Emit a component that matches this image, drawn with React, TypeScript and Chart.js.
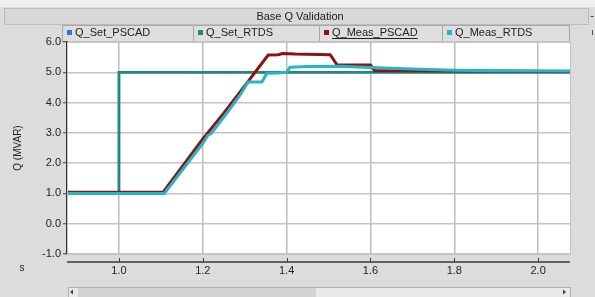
import React, { useEffect, useRef } from "react";
import { Chart, registerables } from "chart.js";
Chart.register(...registerables);

const chartTitle = "Base Q Validation";
const yTitle = "Q (MVAR)";
const xUnit = "s";
const xTicks = [1.0, 1.2, 1.4, 1.6, 1.8, 2.0];
const yTicks = [-1, 0, 1, 2, 3, 4, 5, 6];

const tSetPSCAD = [0.876, 1.0, 1.0, 2.076];
const qSetPSCAD = [1.0, 1.0, 5.0, 5.0];
const tSetRTDS = [0.876, 1.0, 1.0, 2.076];
const qSetRTDS = [1.0, 1.0, 5.0, 5.0];

const tMeasPSCAD = [0.876, 1.105, 1.2, 1.25, 1.3, 1.356, 1.38, 1.39, 1.42, 1.504, 1.52, 1.6, 1.61, 1.7, 1.85, 2.076];
const qMeasPSCAD = [1.035, 1.035, 2.8, 3.65, 4.55, 5.57, 5.58, 5.62, 5.6, 5.58, 5.25, 5.24, 5.05, 5.05, 5.04, 5.03];

const tMeasRTDS = [0.876, 1.108, 1.2, 1.212, 1.22, 1.26, 1.289, 1.308, 1.341, 1.353, 1.38, 1.4, 1.408, 1.45, 1.527, 1.6, 1.7, 1.8, 1.9, 2.076];
const qMeasRTDS = [1.0, 1.0, 2.65, 2.92, 2.98, 3.7, 4.25, 4.68, 4.68, 4.97, 4.98, 5.0, 5.17, 5.19, 5.2, 5.16, 5.11, 5.07, 5.05, 5.04];

const pts = (t: number[], q: number[]) => t.map((x, i) => ({ x, y: q[i] }));

const FONT = "'Liberation Sans', Arial, sans-serif";

function ds(chart: any) {
  return chart.data.datasets;
}

const deco = {
  id: "deco",
  beforeDraw(chart: any) {
    const { ctx, chartArea: ca, width, height } = chart;
    ctx.save();
    ctx.fillStyle = "#dcdcdc";
    ctx.fillRect(0, 0, width, height);
    ctx.fillStyle = "#efefef";
    ctx.fillRect(0, 0, width, 7);
    // title bar
    ctx.fillStyle = "#d8d8d8";
    ctx.fillRect(4, 8, 584, 16);
    ctx.strokeStyle = "#bcbcbc";
    ctx.lineWidth = 1;
    ctx.strokeRect(4.5, 8.5, 584, 16);
    ctx.fillStyle = "#222";
    ctx.font = `11px ${FONT}`;
    ctx.textAlign = "center";
    ctx.textBaseline = "middle";
    ctx.fillText(chartTitle, 300, 16.5);
    ctx.fillText("-", 592, 16);
    // legend
    const edges = [62, 193, 319, 442, 569];
    ds(chart).forEach((d: any, i: number) => {
      const l = edges[i], r = edges[i + 1];
      ctx.fillStyle = "#dedede";
      ctx.fillRect(l, 25, r - l, 16);
      ctx.strokeStyle = "#a8a8a8";
      ctx.strokeRect(l + 0.5, 25.5, r - l, 16);
      ctx.fillStyle = d.borderColor;
      ctx.fillRect(l + 5, 30, 5, 5);
      ctx.fillStyle = "#222";
      ctx.textAlign = "left";
      ctx.font = `11px ${FONT}`;
      ctx.fillText(d.label, l + 13, 33);
      if (i === 2) {
        const w = ctx.measureText(d.label).width;
        ctx.fillRect(l + 13, 38, w, 1);
      }
    });
    // plot area
    ctx.fillStyle = "#ffffff";
    ctx.fillRect(ca.left, ca.top, ca.right - ca.left, ca.bottom - ca.top);
    ctx.restore();
  },
  afterDraw(chart: any) {
    const { ctx, chartArea: ca, scales } = chart;
    ctx.save();
    ctx.strokeStyle = "#c4c4c4";
    ctx.lineWidth = 1;
    ctx.strokeRect(ca.left + 0.5, ca.top + 0.5, ca.right - ca.left, ca.bottom - ca.top);
    ctx.strokeStyle = "#3a3a3a";
    ctx.lineWidth = 1.5;
    ctx.beginPath();
    ctx.moveTo(ca.left, 262);
    ctx.lineTo(ca.right, 262);
    ctx.stroke();
    ctx.lineWidth = 1;
    xTicks.forEach((v) => {
      const x = Math.round(scales.x.getPixelForValue(v)) + 0.5;
      ctx.beginPath();
      ctx.moveTo(x, 258);
      ctx.lineTo(x, 262);
      ctx.stroke();
    });
    ctx.fillStyle = "#222";
    ctx.font = `10px ${FONT}`;
    ctx.textAlign = "center";
    ctx.textBaseline = "middle";
    ctx.fillText(xUnit, 22, 268);
    // scrollbar
    ctx.fillStyle = "#e9e9e9";
    ctx.fillRect(68, 287, 502, 10);
    ctx.fillStyle = "#d2d2d2";
    ctx.fillRect(78, 288, 238, 9);
    ctx.strokeStyle = "#b0b0b0";
    ctx.strokeRect(68.5, 287.5, 502, 10);
    ctx.fillStyle = "#444";
    ctx.beginPath();
    ctx.moveTo(70, 292); ctx.lineTo(73, 289.5); ctx.lineTo(73, 294.5); ctx.fill();
    ctx.beginPath();
    ctx.moveTo(566, 292); ctx.lineTo(563, 289.5); ctx.lineTo(563, 294.5); ctx.fill();
    ctx.fillStyle = "#555";
    ctx.fillRect(592, 30, 1, 5);
    ctx.restore();
  },
};

export default function App() {
  const ref = useRef<HTMLCanvasElement>(null);
  useEffect(() => {
    if (!ref.current) return;
    const mk = (label: string, data: any, color: string, order: number, w = 2.5) => ({
      label,
      data,
      borderColor: color,
      backgroundColor: color,
      borderWidth: w,
      pointRadius: 0,
      fill: false,
      tension: 0,
      order,
    });
    const chart = new Chart(ref.current, {
      type: "line",
      data: {
        datasets: [
          mk("Q_Set_PSCAD", pts(tSetPSCAD, qSetPSCAD), "#2b7bd6", 3),
          mk("Q_Set_RTDS", pts(tSetRTDS, qSetRTDS), "#1f8a72", 2),
          mk("Q_Meas_PSCAD", pts(tMeasPSCAD, qMeasPSCAD), "#8e1212", 1, 3),
          mk("Q_Meas_RTDS", pts(tMeasRTDS, qMeasRTDS), "#27b4c4", 0, 3),
        ],
      },
      options: {
        animation: false,
        responsive: false,
        layout: { padding: { left: 0, right: 25, top: 42, bottom: 0 } },
        plugins: { legend: { display: false }, tooltip: { enabled: false }, title: { display: false } },
        scales: {
          x: {
            type: "linear",
            min: 0.876,
            max: 2.076,
            afterBuildTicks: (s: any) => { s.ticks = xTicks.map((v) => ({ value: v })); },
            afterFit: (s: any) => { s.height = 43; },
            grid: { color: "#bdbdbd", lineWidth: 1.5, drawTicks: false },
            border: { display: false },
            ticks: {
              padding: 10,
              color: "#222",
              font: { family: FONT, size: 11 },
              callback: (v: any) => Number(v).toFixed(1),
              maxRotation: 0,
            },
          },
          y: {
            min: -1,
            max: 6,
            afterBuildTicks: (s: any) => { s.ticks = yTicks.map((v) => ({ value: v })); },
            afterFit: (s: any) => { s.width = 67; },
            grid: { color: "#c4c4c4", lineWidth: 1.5, tickLength: 4, tickColor: "#444", tickWidth: 1 },
            border: { display: true, color: "#333", width: 1.5 },
            title: { display: true, text: yTitle, color: "#222", font: { family: FONT, size: 10 }, padding: { top: 12, bottom: 0 } },
            ticks: {
              padding: 2,
              color: "#222",
              font: { family: FONT, size: 11 },
              callback: (v: any) => Number(v).toFixed(1),
            },
          },
        },
      },
      plugins: [deco],
    } as any);
    return () => chart.destroy();
  }, []);
  return (
    <div style={{ position: "fixed", left: 0, top: 0, width: 595, height: 297 }}>
      <canvas ref={ref} width={595} height={297} style={{ width: 595, height: 297, display: "block" }} />
    </div>
  );
}
